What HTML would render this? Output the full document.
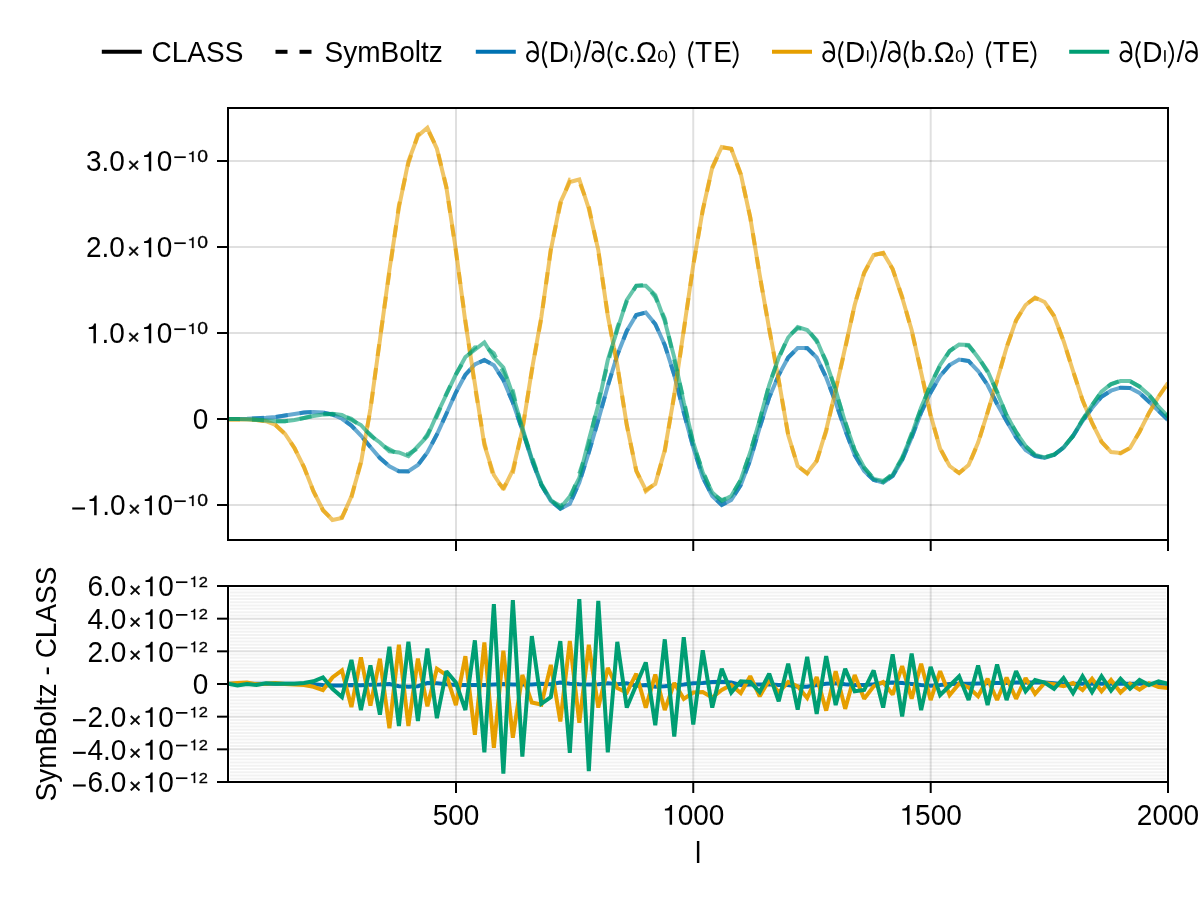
<!DOCTYPE html>
<html><head><meta charset="utf-8"><title>plot</title>
<style>html,body{margin:0;padding:0;background:#fff;overflow:hidden;}svg{display:block;will-change:transform;}text{font-family:"Liberation Sans",sans-serif;fill:#000;}</style></head><body>
<svg width="1200" height="900" viewBox="0 0 1200 900">
<rect x="0" y="0" width="1200" height="900" fill="#ffffff"/>
<g id="top">
<line x1="456.0" x2="456.0" y1="108.0" y2="540.0" stroke="#000" stroke-opacity="0.12" stroke-width="2"/>
<line x1="693.25" x2="693.25" y1="108.0" y2="540.0" stroke="#000" stroke-opacity="0.12" stroke-width="2"/>
<line x1="930.7" x2="930.7" y1="108.0" y2="540.0" stroke="#000" stroke-opacity="0.12" stroke-width="2"/>
<line x1="228.0" x2="1168.0" y1="161.0" y2="161.0" stroke="#000" stroke-opacity="0.12" stroke-width="2"/>
<line x1="228.0" x2="1168.0" y1="247.0" y2="247.0" stroke="#000" stroke-opacity="0.12" stroke-width="2"/>
<line x1="228.0" x2="1168.0" y1="333.0" y2="333.0" stroke="#000" stroke-opacity="0.12" stroke-width="2"/>
<line x1="228.0" x2="1168.0" y1="419.0" y2="419.0" stroke="#000" stroke-opacity="0.12" stroke-width="2"/>
<line x1="228.0" x2="1168.0" y1="505.0" y2="505.0" stroke="#000" stroke-opacity="0.12" stroke-width="2"/>
<clipPath id="ctop"><rect x="228" y="108" width="940" height="432"/></clipPath>
<g clip-path="url(#ctop)" fill="none" stroke-width="4" stroke-linejoin="miter" stroke-miterlimit="2" stroke-opacity="0.6">
<polyline points="228.00,419.00 237.49,419.00 246.99,418.75 256.48,418.25 265.98,417.75 275.47,417.00 284.97,415.50 294.46,414.00 303.96,412.50 313.45,412.00 322.95,412.50 332.44,414.50 341.94,418.75 351.43,425.50 360.93,435.50 370.42,447.00 379.92,458.00 389.41,466.25 398.91,471.25 408.40,471.25 417.90,465.00 427.39,452.50 436.89,434.50 446.38,413.75 455.88,392.50 465.37,374.75 474.87,364.50 484.36,360.00 493.86,365.25 503.35,380.00 512.85,402.50 522.34,430.00 531.84,460.00 541.33,485.00 550.83,501.00 560.32,508.75 569.82,503.75 579.31,482.50 588.81,452.50 598.30,420.00 607.80,386.00 617.29,355.00 626.79,331.00 636.28,315.00 645.78,312.50 655.27,324.00 664.77,345.00 674.26,375.00 683.76,412.50 693.25,447.50 702.75,477.50 712.24,496.00 721.74,505.00 731.23,500.00 740.73,485.00 750.22,460.00 759.72,427.50 769.21,397.50 778.71,375.00 788.20,357.50 797.70,348.00 807.19,348.00 816.69,357.50 826.18,377.50 835.68,402.50 845.17,430.00 854.67,455.00 864.16,471.00 873.66,480.00 883.15,482.50 892.65,476.00 902.14,460.00 911.64,437.50 921.13,412.50 930.63,392.50 940.12,376.00 949.62,365.00 959.11,359.50 968.61,361.00 978.10,371.00 987.60,385.00 997.09,404.00 1006.59,421.00 1016.08,437.50 1025.58,450.00 1035.07,456.00 1044.57,458.00 1054.06,455.00 1063.56,447.50 1073.05,436.00 1082.55,421.00 1092.04,408.00 1101.54,396.70 1111.03,390.70 1120.53,387.70 1130.02,388.00 1139.52,393.00 1149.01,401.70 1158.51,410.70 1168.00,420.00" stroke="#0072B2"/>
<polyline points="228.00,418.99 237.49,418.99 246.99,418.74 256.48,418.24 265.98,417.74 275.47,416.99 284.97,415.49 294.46,413.99 303.96,412.49 313.45,412.01 322.95,412.55 332.44,414.58 341.94,418.83 351.43,425.55 360.93,435.57 370.42,447.04 379.92,458.03 389.41,466.25 398.91,471.37 408.40,471.40 417.90,465.12 427.39,452.45 436.89,434.46 446.38,413.76 455.88,392.55 465.37,374.80 474.87,364.55 484.36,360.05 493.86,365.28 503.35,380.00 512.85,402.53 522.34,430.03 531.84,460.03 541.33,484.99 550.83,501.01 560.32,508.67 569.82,503.74 579.31,482.51 588.81,452.53 598.30,420.01 607.80,385.96 617.29,355.01 626.79,330.96 636.28,315.09 645.78,312.55 655.27,324.15 664.77,345.12 674.26,375.08 683.76,412.53 693.25,447.46 702.75,477.45 712.24,495.89 721.74,504.88 731.23,499.92 740.73,485.05 750.22,460.03 759.72,427.53 769.21,397.51 778.71,375.05 788.20,357.55 797.70,348.15 807.19,348.15 816.69,357.55 826.18,377.49 835.68,402.46 845.17,430.01 854.67,455.05 864.16,471.05 873.66,480.01 883.15,482.45 892.65,475.92 902.14,459.95 911.64,437.50 921.13,412.55 930.63,392.59 940.12,376.05 949.62,365.00 959.11,359.49 968.61,360.99 978.10,370.97 987.60,384.96 997.09,403.95 1006.59,420.95 1016.08,437.42 1025.58,449.92 1035.07,455.92 1044.57,457.92 1054.06,454.96 1063.56,447.51 1073.05,435.99 1082.55,420.99 1092.04,407.99 1101.54,396.69 1111.03,390.69 1120.53,387.69 1130.02,387.99 1139.52,392.99 1149.01,401.69 1158.51,410.69 1168.00,419.99" stroke="#0072B2" stroke-dasharray="12 12"/>
<polyline points="228.00,419.50 237.49,419.50 246.99,419.50 256.48,420.00 265.98,421.25 275.47,425.00 284.97,433.75 294.46,448.00 303.96,467.00 313.45,491.25 322.95,510.00 332.44,520.00 341.94,518.00 351.43,496.25 360.93,463.00 370.42,408.75 379.92,340.00 389.41,270.00 398.91,207.50 408.40,161.25 417.90,136.00 427.39,127.80 436.89,148.75 446.38,187.50 455.88,250.00 465.37,322.00 474.87,383.75 484.36,445.00 493.86,475.00 503.35,489.50 512.85,470.00 522.34,430.00 531.84,370.00 541.33,317.00 550.83,250.00 560.32,202.50 569.82,182.00 579.31,179.50 588.81,208.75 598.30,250.00 607.80,316.00 617.29,365.00 626.79,425.00 636.28,471.00 645.78,490.00 655.27,484.00 664.77,450.00 674.26,395.00 683.76,330.00 693.25,265.00 702.75,210.00 712.24,167.50 721.74,147.00 731.23,148.75 740.73,173.75 750.22,217.50 759.72,275.00 769.21,329.00 778.71,380.00 788.20,435.00 797.70,466.00 807.19,473.00 816.69,461.00 826.18,430.00 835.68,390.00 845.17,347.50 854.67,305.00 864.16,272.50 873.66,255.00 883.15,253.00 892.65,268.75 902.14,297.50 911.64,330.00 921.13,372.50 930.63,415.00 940.12,448.75 949.62,466.00 959.11,473.00 968.61,465.00 978.10,442.50 987.60,412.50 997.09,380.00 1006.59,347.50 1016.08,320.00 1025.58,305.00 1035.07,297.50 1044.57,302.00 1054.06,316.00 1063.56,341.00 1073.05,371.00 1082.55,400.00 1092.04,423.00 1101.54,441.70 1111.03,452.00 1120.53,453.00 1130.02,448.00 1139.52,431.70 1149.01,413.00 1158.51,396.70 1168.00,383.00" stroke="#E69F00"/>
<polyline points="228.00,419.49 237.49,419.45 246.99,419.42 256.48,420.01 265.98,421.24 275.47,424.95 284.97,433.75 294.46,448.03 303.96,467.05 313.45,491.40 322.95,510.32 332.44,519.66 341.94,517.29 351.43,497.47 360.93,461.60 370.42,409.89 379.92,338.67 389.41,272.33 398.91,205.44 408.40,163.46 417.90,134.67 427.39,128.98 436.89,147.94 446.38,187.02 455.88,251.11 465.37,320.53 474.87,386.42 484.36,442.81 493.86,478.36 503.35,487.74 512.85,472.83 522.34,429.52 531.84,370.98 541.33,318.08 550.83,249.00 560.32,204.47 569.82,179.74 579.31,181.54 588.81,206.69 598.30,251.24 607.80,315.15 617.29,365.21 626.79,425.45 636.28,470.46 645.78,491.24 655.27,483.50 664.77,451.37 674.26,394.95 683.76,330.78 693.25,265.45 702.75,210.42 712.24,168.21 721.74,147.32 731.23,148.80 740.73,174.23 750.22,217.09 759.72,275.65 769.21,328.79 778.71,380.45 788.20,434.89 797.70,466.12 807.19,473.74 816.69,460.63 826.18,431.40 835.68,389.33 845.17,348.81 854.67,304.52 864.16,273.28 873.66,255.12 883.15,252.89 892.65,269.31 902.14,296.56 911.64,330.78 921.13,371.43 930.63,415.85 940.12,448.08 949.62,466.58 959.11,472.99 968.61,465.19 978.10,443.15 987.60,412.22 997.09,380.85 1006.59,347.16 1016.08,320.78 1025.58,304.68 1035.07,298.02 1044.57,301.95 1054.06,316.01 1063.56,341.12 1073.05,370.95 1082.55,400.32 1092.04,422.72 1101.54,442.08 1111.03,451.79 1120.53,453.45 1130.02,447.99 1139.52,431.99 1149.01,412.96 1158.51,396.86 1168.00,383.21" stroke="#E69F00" stroke-dasharray="12 12"/>
<polyline points="228.00,419.00 237.49,419.00 246.99,419.25 256.48,419.75 265.98,420.50 275.47,421.25 284.97,421.25 294.46,420.00 303.96,418.00 313.45,416.00 322.95,414.50 332.44,413.75 341.94,415.00 351.43,420.00 360.93,425.00 370.42,435.50 379.92,442.50 389.41,451.25 398.91,452.50 408.40,456.25 417.90,446.25 427.39,436.25 436.89,414.50 446.38,394.50 455.88,374.50 465.37,357.00 474.87,349.75 484.36,342.50 493.86,357.50 503.35,367.50 512.85,395.00 522.34,427.50 531.84,458.75 541.33,483.75 550.83,500.00 560.32,508.00 569.82,496.50 579.31,478.00 588.81,440.00 598.30,405.00 607.80,360.00 617.29,330.00 626.79,300.00 636.28,285.75 645.78,285.75 655.27,295.00 664.77,321.00 674.26,357.50 683.76,402.50 693.25,442.50 702.75,472.50 712.24,492.50 721.74,501.00 731.23,496.00 740.73,480.00 750.22,452.50 759.72,420.00 769.21,385.00 778.71,357.50 788.20,337.50 797.70,327.00 807.19,330.00 816.69,340.00 826.18,362.50 835.68,390.00 845.17,422.50 854.67,450.00 864.16,467.50 873.66,479.00 883.15,481.00 892.65,475.00 902.14,457.50 911.64,435.00 921.13,407.50 930.63,385.00 940.12,365.00 949.62,351.00 959.11,344.50 968.61,345.00 978.10,357.50 987.60,371.00 997.09,392.50 1006.59,415.00 1016.08,432.50 1025.58,446.00 1035.07,455.00 1044.57,457.50 1054.06,454.50 1063.56,447.50 1073.05,435.50 1082.55,420.00 1092.04,405.00 1101.54,391.70 1111.03,384.00 1120.53,381.00 1130.02,381.00 1139.52,386.70 1149.01,395.00 1158.51,406.70 1168.00,416.70" stroke="#009E73"/>
<polyline points="228.00,418.99 237.49,419.08 246.99,419.25 256.48,419.80 265.98,420.46 275.47,421.24 284.97,421.24 294.46,419.99 303.96,417.95 313.45,415.85 322.95,414.16 332.44,414.00 341.94,415.69 351.43,418.73 360.93,426.37 370.42,434.52 379.92,444.11 389.41,449.29 398.91,454.71 408.40,454.03 417.90,448.19 427.39,434.39 436.89,416.30 446.38,393.83 455.88,374.42 465.37,358.37 474.87,347.45 484.36,346.09 493.86,353.30 503.35,372.22 512.85,390.59 522.34,431.32 531.84,456.23 541.33,484.79 550.83,500.69 560.32,505.74 569.82,500.12 579.31,473.53 588.81,444.59 598.30,400.63 607.80,363.59 617.29,327.78 626.79,301.24 636.28,285.80 645.78,284.61 655.27,297.17 664.77,318.65 674.26,360.26 683.76,400.04 693.25,444.63 702.75,470.73 712.24,493.74 721.74,500.19 731.23,496.45 740.73,479.85 750.22,452.39 759.72,420.42 769.21,384.46 778.71,358.41 788.20,336.43 797.70,328.35 807.19,328.57 816.69,341.57 826.18,361.03 835.68,391.11 845.17,421.69 854.67,450.38 864.16,467.82 873.66,478.29 883.15,482.24 892.65,473.44 902.14,459.20 911.64,433.40 921.13,408.87 930.63,384.10 940.12,365.58 949.62,351.09 959.11,344.09 968.61,345.85 978.10,356.52 987.60,372.11 997.09,391.47 1006.59,415.85 1016.08,431.83 1025.58,446.38 1035.07,454.79 1044.57,457.42 1054.06,454.75 1063.56,447.18 1073.05,435.98 1082.55,419.59 1092.04,405.42 1101.54,391.29 1111.03,384.34 1120.53,380.72 1130.02,381.25 1139.52,386.49 1149.01,395.05 1158.51,406.55 1168.00,416.69" stroke="#009E73" stroke-dasharray="12 12"/>
</g>
<rect x="228.0" y="108.0" width="940.0" height="432.0" fill="none" stroke="#000" stroke-width="2"/>
<line x1="217" x2="227" y1="161.0" y2="161.0" stroke="#000" stroke-width="2"/>
<line x1="217" x2="227" y1="247.0" y2="247.0" stroke="#000" stroke-width="2"/>
<line x1="217" x2="227" y1="333.0" y2="333.0" stroke="#000" stroke-width="2"/>
<line x1="217" x2="227" y1="419.0" y2="419.0" stroke="#000" stroke-width="2"/>
<line x1="217" x2="227" y1="505.0" y2="505.0" stroke="#000" stroke-width="2"/>
<line x1="456.0" x2="456.0" y1="541" y2="551" stroke="#000" stroke-width="2"/>
<line x1="693.25" x2="693.25" y1="541" y2="551" stroke="#000" stroke-width="2"/>
<line x1="930.7" x2="930.7" y1="541" y2="551" stroke="#000" stroke-width="2"/>
<line x1="1168.0" x2="1168.0" y1="541" y2="551" stroke="#000" stroke-width="2"/>
<g transform="translate(85.98,171.30)"><text transform="scale(1.0,1.04)" x="0.00 15.57 23.35 70.85" font-size="28">3.00</text><text transform="translate(47.60,0.2) scale(1.0,1)" text-anchor="middle" font-size="21.00" stroke="#000" stroke-width="0.45">×</text><path transform="translate(55.28,0) scale(28.000,-28.000)" d="M0.100,0.507 L0.100,0.571 C0.189,0.571 0.271,0.607 0.293,0.707 L0.356,0.707 L0.356,0 L0.267,0 L0.267,0.507 Z"/></g><rect x="174.30" y="156.35" width="11.45" height="1.7"/><path transform="translate(187.34,161.90) scale(17.60,-15.1)" d="M0.100,0.507 L0.100,0.571 C0.189,0.571 0.271,0.607 0.293,0.707 L0.356,0.707 L0.356,0 L0.267,0 L0.267,0.507 Z" stroke="#000" stroke-width="0.015"/><text transform="translate(197.13,161.80) scale(1.29,1.06)" font-size="15" stroke="#000" stroke-width="0.3">0</text>
<g transform="translate(85.98,257.30)"><text transform="scale(1.0,1.04)" x="0.00 15.57 23.35 70.85" font-size="28">2.00</text><text transform="translate(47.60,0.2) scale(1.0,1)" text-anchor="middle" font-size="21.00" stroke="#000" stroke-width="0.45">×</text><path transform="translate(55.28,0) scale(28.000,-28.000)" d="M0.100,0.507 L0.100,0.571 C0.189,0.571 0.271,0.607 0.293,0.707 L0.356,0.707 L0.356,0 L0.267,0 L0.267,0.507 Z"/></g><rect x="174.30" y="242.35" width="11.45" height="1.7"/><path transform="translate(187.34,247.90) scale(17.60,-15.1)" d="M0.100,0.507 L0.100,0.571 C0.189,0.571 0.271,0.607 0.293,0.707 L0.356,0.707 L0.356,0 L0.267,0 L0.267,0.507 Z" stroke="#000" stroke-width="0.015"/><text transform="translate(197.13,247.80) scale(1.29,1.06)" font-size="15" stroke="#000" stroke-width="0.3">0</text>
<g transform="translate(85.98,343.30)"><text transform="scale(1.0,1.04)" x="15.57 23.35 70.85" font-size="28">.00</text><path transform="translate(0.00,0) scale(28.000,-28.000)" d="M0.100,0.507 L0.100,0.571 C0.189,0.571 0.271,0.607 0.293,0.707 L0.356,0.707 L0.356,0 L0.267,0 L0.267,0.507 Z"/><text transform="translate(47.60,0.2) scale(1.0,1)" text-anchor="middle" font-size="21.00" stroke="#000" stroke-width="0.45">×</text><path transform="translate(55.28,0) scale(28.000,-28.000)" d="M0.100,0.507 L0.100,0.571 C0.189,0.571 0.271,0.607 0.293,0.707 L0.356,0.707 L0.356,0 L0.267,0 L0.267,0.507 Z"/></g><rect x="174.30" y="328.35" width="11.45" height="1.7"/><path transform="translate(187.34,333.90) scale(17.60,-15.1)" d="M0.100,0.507 L0.100,0.571 C0.189,0.571 0.271,0.607 0.293,0.707 L0.356,0.707 L0.356,0 L0.267,0 L0.267,0.507 Z" stroke="#000" stroke-width="0.015"/><text transform="translate(197.13,333.80) scale(1.29,1.06)" font-size="15" stroke="#000" stroke-width="0.3">0</text>
<g transform="translate(192.73,429.30)"><text transform="scale(1.0,1.04)" x="0.00" font-size="28">0</text></g>
<g transform="translate(70.33,515.30)"><text transform="scale(1.0,1.04)" x="31.92 39.70 87.20" font-size="28">.00</text><rect x="1.90" y="-7.85" width="12.75" height="2.10"/><path transform="translate(16.35,0) scale(28.000,-28.000)" d="M0.100,0.507 L0.100,0.571 C0.189,0.571 0.271,0.607 0.293,0.707 L0.356,0.707 L0.356,0 L0.267,0 L0.267,0.507 Z"/><text transform="translate(63.95,0.2) scale(1.0,1)" text-anchor="middle" font-size="21.00" stroke="#000" stroke-width="0.45">×</text><path transform="translate(71.63,0) scale(28.000,-28.000)" d="M0.100,0.507 L0.100,0.571 C0.189,0.571 0.271,0.607 0.293,0.707 L0.356,0.707 L0.356,0 L0.267,0 L0.267,0.507 Z"/></g><rect x="174.30" y="500.35" width="11.45" height="1.7"/><path transform="translate(187.34,505.90) scale(17.60,-15.1)" d="M0.100,0.507 L0.100,0.571 C0.189,0.571 0.271,0.607 0.293,0.707 L0.356,0.707 L0.356,0 L0.267,0 L0.267,0.507 Z" stroke="#000" stroke-width="0.015"/><text transform="translate(197.13,505.80) scale(1.29,1.06)" font-size="15" stroke="#000" stroke-width="0.3">0</text>
</g>
<g id="bot">
<line x1="230.0" x2="1166.0" y1="589.267" y2="589.267" stroke="#000" stroke-opacity="0.05" stroke-width="2"/>
<line x1="230.0" x2="1166.0" y1="592.533" y2="592.533" stroke="#000" stroke-opacity="0.05" stroke-width="2"/>
<line x1="230.0" x2="1166.0" y1="595.800" y2="595.800" stroke="#000" stroke-opacity="0.05" stroke-width="2"/>
<line x1="230.0" x2="1166.0" y1="599.067" y2="599.067" stroke="#000" stroke-opacity="0.05" stroke-width="2"/>
<line x1="230.0" x2="1166.0" y1="602.333" y2="602.333" stroke="#000" stroke-opacity="0.05" stroke-width="2"/>
<line x1="230.0" x2="1166.0" y1="605.600" y2="605.600" stroke="#000" stroke-opacity="0.05" stroke-width="2"/>
<line x1="230.0" x2="1166.0" y1="608.867" y2="608.867" stroke="#000" stroke-opacity="0.05" stroke-width="2"/>
<line x1="230.0" x2="1166.0" y1="612.133" y2="612.133" stroke="#000" stroke-opacity="0.05" stroke-width="2"/>
<line x1="230.0" x2="1166.0" y1="615.400" y2="615.400" stroke="#000" stroke-opacity="0.05" stroke-width="2"/>
<line x1="230.0" x2="1166.0" y1="621.933" y2="621.933" stroke="#000" stroke-opacity="0.05" stroke-width="2"/>
<line x1="230.0" x2="1166.0" y1="625.200" y2="625.200" stroke="#000" stroke-opacity="0.05" stroke-width="2"/>
<line x1="230.0" x2="1166.0" y1="628.467" y2="628.467" stroke="#000" stroke-opacity="0.05" stroke-width="2"/>
<line x1="230.0" x2="1166.0" y1="631.733" y2="631.733" stroke="#000" stroke-opacity="0.05" stroke-width="2"/>
<line x1="230.0" x2="1166.0" y1="635.000" y2="635.000" stroke="#000" stroke-opacity="0.05" stroke-width="2"/>
<line x1="230.0" x2="1166.0" y1="638.267" y2="638.267" stroke="#000" stroke-opacity="0.05" stroke-width="2"/>
<line x1="230.0" x2="1166.0" y1="641.533" y2="641.533" stroke="#000" stroke-opacity="0.05" stroke-width="2"/>
<line x1="230.0" x2="1166.0" y1="644.800" y2="644.800" stroke="#000" stroke-opacity="0.05" stroke-width="2"/>
<line x1="230.0" x2="1166.0" y1="648.067" y2="648.067" stroke="#000" stroke-opacity="0.05" stroke-width="2"/>
<line x1="230.0" x2="1166.0" y1="654.600" y2="654.600" stroke="#000" stroke-opacity="0.05" stroke-width="2"/>
<line x1="230.0" x2="1166.0" y1="657.867" y2="657.867" stroke="#000" stroke-opacity="0.05" stroke-width="2"/>
<line x1="230.0" x2="1166.0" y1="661.133" y2="661.133" stroke="#000" stroke-opacity="0.05" stroke-width="2"/>
<line x1="230.0" x2="1166.0" y1="664.400" y2="664.400" stroke="#000" stroke-opacity="0.05" stroke-width="2"/>
<line x1="230.0" x2="1166.0" y1="667.667" y2="667.667" stroke="#000" stroke-opacity="0.05" stroke-width="2"/>
<line x1="230.0" x2="1166.0" y1="670.933" y2="670.933" stroke="#000" stroke-opacity="0.05" stroke-width="2"/>
<line x1="230.0" x2="1166.0" y1="674.200" y2="674.200" stroke="#000" stroke-opacity="0.05" stroke-width="2"/>
<line x1="230.0" x2="1166.0" y1="677.467" y2="677.467" stroke="#000" stroke-opacity="0.05" stroke-width="2"/>
<line x1="230.0" x2="1166.0" y1="680.733" y2="680.733" stroke="#000" stroke-opacity="0.05" stroke-width="2"/>
<line x1="230.0" x2="1166.0" y1="687.267" y2="687.267" stroke="#000" stroke-opacity="0.05" stroke-width="2"/>
<line x1="230.0" x2="1166.0" y1="690.533" y2="690.533" stroke="#000" stroke-opacity="0.05" stroke-width="2"/>
<line x1="230.0" x2="1166.0" y1="693.800" y2="693.800" stroke="#000" stroke-opacity="0.05" stroke-width="2"/>
<line x1="230.0" x2="1166.0" y1="697.067" y2="697.067" stroke="#000" stroke-opacity="0.05" stroke-width="2"/>
<line x1="230.0" x2="1166.0" y1="700.333" y2="700.333" stroke="#000" stroke-opacity="0.05" stroke-width="2"/>
<line x1="230.0" x2="1166.0" y1="703.600" y2="703.600" stroke="#000" stroke-opacity="0.05" stroke-width="2"/>
<line x1="230.0" x2="1166.0" y1="706.867" y2="706.867" stroke="#000" stroke-opacity="0.05" stroke-width="2"/>
<line x1="230.0" x2="1166.0" y1="710.133" y2="710.133" stroke="#000" stroke-opacity="0.05" stroke-width="2"/>
<line x1="230.0" x2="1166.0" y1="713.400" y2="713.400" stroke="#000" stroke-opacity="0.05" stroke-width="2"/>
<line x1="230.0" x2="1166.0" y1="719.933" y2="719.933" stroke="#000" stroke-opacity="0.05" stroke-width="2"/>
<line x1="230.0" x2="1166.0" y1="723.200" y2="723.200" stroke="#000" stroke-opacity="0.05" stroke-width="2"/>
<line x1="230.0" x2="1166.0" y1="726.467" y2="726.467" stroke="#000" stroke-opacity="0.05" stroke-width="2"/>
<line x1="230.0" x2="1166.0" y1="729.733" y2="729.733" stroke="#000" stroke-opacity="0.05" stroke-width="2"/>
<line x1="230.0" x2="1166.0" y1="733.000" y2="733.000" stroke="#000" stroke-opacity="0.05" stroke-width="2"/>
<line x1="230.0" x2="1166.0" y1="736.267" y2="736.267" stroke="#000" stroke-opacity="0.05" stroke-width="2"/>
<line x1="230.0" x2="1166.0" y1="739.533" y2="739.533" stroke="#000" stroke-opacity="0.05" stroke-width="2"/>
<line x1="230.0" x2="1166.0" y1="742.800" y2="742.800" stroke="#000" stroke-opacity="0.05" stroke-width="2"/>
<line x1="230.0" x2="1166.0" y1="746.067" y2="746.067" stroke="#000" stroke-opacity="0.05" stroke-width="2"/>
<line x1="230.0" x2="1166.0" y1="752.600" y2="752.600" stroke="#000" stroke-opacity="0.05" stroke-width="2"/>
<line x1="230.0" x2="1166.0" y1="755.867" y2="755.867" stroke="#000" stroke-opacity="0.05" stroke-width="2"/>
<line x1="230.0" x2="1166.0" y1="759.133" y2="759.133" stroke="#000" stroke-opacity="0.05" stroke-width="2"/>
<line x1="230.0" x2="1166.0" y1="762.400" y2="762.400" stroke="#000" stroke-opacity="0.05" stroke-width="2"/>
<line x1="230.0" x2="1166.0" y1="765.667" y2="765.667" stroke="#000" stroke-opacity="0.05" stroke-width="2"/>
<line x1="230.0" x2="1166.0" y1="768.933" y2="768.933" stroke="#000" stroke-opacity="0.05" stroke-width="2"/>
<line x1="230.0" x2="1166.0" y1="772.200" y2="772.200" stroke="#000" stroke-opacity="0.05" stroke-width="2"/>
<line x1="230.0" x2="1166.0" y1="775.467" y2="775.467" stroke="#000" stroke-opacity="0.05" stroke-width="2"/>
<line x1="230.0" x2="1166.0" y1="778.733" y2="778.733" stroke="#000" stroke-opacity="0.05" stroke-width="2"/>
<line x1="456.0" x2="456.0" y1="586.0" y2="782.0" stroke="#000" stroke-opacity="0.12" stroke-width="2"/>
<line x1="693.25" x2="693.25" y1="586.0" y2="782.0" stroke="#000" stroke-opacity="0.12" stroke-width="2"/>
<line x1="930.7" x2="930.7" y1="586.0" y2="782.0" stroke="#000" stroke-opacity="0.12" stroke-width="2"/>
<line x1="228.0" x2="1168.0" y1="586.000" y2="586.000" stroke="#000" stroke-opacity="0.12" stroke-width="2"/>
<line x1="228.0" x2="1168.0" y1="618.667" y2="618.667" stroke="#000" stroke-opacity="0.12" stroke-width="2"/>
<line x1="228.0" x2="1168.0" y1="651.333" y2="651.333" stroke="#000" stroke-opacity="0.12" stroke-width="2"/>
<line x1="228.0" x2="1168.0" y1="684.000" y2="684.000" stroke="#000" stroke-opacity="0.12" stroke-width="2"/>
<line x1="228.0" x2="1168.0" y1="716.667" y2="716.667" stroke="#000" stroke-opacity="0.12" stroke-width="2"/>
<line x1="228.0" x2="1168.0" y1="749.333" y2="749.333" stroke="#000" stroke-opacity="0.12" stroke-width="2"/>
<line x1="228.0" x2="1168.0" y1="782.000" y2="782.000" stroke="#000" stroke-opacity="0.12" stroke-width="2"/>
<clipPath id="cbot"><rect x="228" y="586" width="940" height="196"/></clipPath>
<g clip-path="url(#cbot)" fill="none" stroke-width="4" stroke-linejoin="miter" stroke-miterlimit="2">
<polyline points="228.00,683.75 237.49,683.75 246.99,683.75 256.48,683.75 265.98,683.75 275.47,683.75 284.97,683.75 294.46,683.75 303.96,683.75 313.45,684.25 322.95,685.00 332.44,685.51 341.94,685.51 351.43,685.00 360.93,685.25 370.42,684.75 379.92,684.50 389.41,684.00 398.91,686.26 408.40,686.76 417.90,686.26 427.39,683.00 436.89,683.25 446.38,684.25 455.88,685.00 465.37,685.00 474.87,685.00 484.36,685.00 493.86,684.50 503.35,684.00 512.85,684.50 522.34,684.50 531.84,684.50 541.33,683.75 550.83,684.25 560.32,682.49 569.82,683.75 579.31,684.25 588.81,684.50 598.30,684.25 607.80,683.25 617.29,684.25 626.79,683.25 636.28,685.76 645.78,685.00 655.27,686.76 664.77,686.26 674.26,685.51 683.76,684.50 693.25,683.25 702.75,683.00 712.24,681.99 721.74,681.74 731.23,682.49 740.73,685.00 750.22,684.50 759.72,684.50 769.21,684.25 778.71,685.00 788.20,685.00 797.70,686.76 807.19,686.76 816.69,685.00 826.18,683.75 835.68,683.25 845.17,684.25 854.67,685.00 864.16,685.00 873.66,684.25 883.15,683.00 892.65,682.49 902.14,683.00 911.64,684.00 921.13,685.00 930.63,685.76 940.12,685.00 949.62,684.00 959.11,683.75 968.61,683.75 978.10,683.50 987.60,683.25 997.09,683.00 1006.59,683.00 1016.08,682.49 1025.58,682.49 1035.07,682.49 1044.57,682.49 1054.06,683.25 1063.56,684.25 1073.05,683.75 1082.55,683.75 1092.04,683.75 1101.54,683.75 1111.03,683.75 1120.53,683.75 1130.02,683.75 1139.52,683.75 1149.01,683.75 1158.51,683.75 1168.00,683.75" stroke="#0072B2"/>
<polyline points="228.00,683.75 237.49,683.00 246.99,682.49 256.48,684.25 265.98,683.75 275.47,683.00 284.97,684.00 294.46,684.50 303.96,685.00 313.45,686.76 322.95,690.02 332.44,677.47 341.94,670.45 351.43,707.09 360.93,657.39 370.42,705.59 379.92,658.65 389.41,728.18 398.91,644.84 408.40,725.92 417.90,658.65 427.39,706.34 436.89,668.69 446.38,674.96 455.88,705.08 465.37,656.14 474.87,734.70 484.36,642.33 493.86,747.75 503.35,650.62 512.85,737.71 522.34,674.96 531.84,702.57 541.33,704.58 550.83,664.92 560.32,721.40 569.82,641.08 579.31,722.65 588.81,644.84 598.30,707.59 607.80,667.94 617.29,688.02 626.79,692.53 636.28,673.71 645.78,707.59 655.27,674.46 664.77,710.10 674.26,683.00 683.76,698.81 693.25,692.53 702.75,692.03 712.24,697.55 721.74,690.02 731.23,685.00 740.73,693.04 750.22,676.22 759.72,696.30 769.21,679.98 778.71,692.53 788.20,681.99 797.70,686.26 807.19,698.06 816.69,676.97 826.18,710.61 835.68,671.20 845.17,708.85 854.67,674.96 864.16,698.81 873.66,686.26 883.15,681.99 892.65,694.54 902.14,666.18 911.64,698.81 921.13,663.67 930.63,700.06 940.12,671.20 949.62,695.04 959.11,683.75 968.61,687.51 978.10,696.30 987.60,678.73 997.09,700.06 1006.59,677.47 1016.08,698.81 1025.58,677.98 1035.07,693.79 1044.57,683.00 1054.06,684.25 1063.56,686.26 1073.05,683.00 1082.55,690.02 1092.04,678.73 1101.54,691.28 1111.03,679.98 1120.53,692.53 1130.02,683.75 1139.52,689.52 1149.01,683.25 1158.51,687.01 1168.00,688.02" stroke="#E69F00"/>
<polyline points="228.00,683.75 237.49,685.51 246.99,684.00 256.48,685.00 265.98,683.25 275.47,683.75 284.97,683.75 294.46,683.75 303.96,683.00 313.45,681.24 322.95,677.47 332.44,688.77 341.94,697.05 351.43,659.90 360.93,710.10 370.42,665.43 379.92,714.62 389.41,646.85 398.91,725.92 408.40,641.83 417.90,720.90 427.39,648.61 436.89,718.14 446.38,671.20 455.88,682.49 465.37,710.10 474.87,640.33 484.36,752.27 493.86,604.18 503.35,773.61 512.85,600.17 522.34,756.54 531.84,636.06 541.33,703.83 550.83,697.05 560.32,641.08 569.82,752.77 579.31,599.16 588.81,771.10 598.30,600.92 607.80,752.27 617.29,641.83 626.79,707.59 636.28,685.00 645.78,662.41 655.27,725.16 664.77,639.32 674.26,736.46 683.76,637.31 693.25,724.41 702.75,650.37 712.24,707.59 721.74,668.69 731.23,692.53 740.73,681.24 750.22,681.99 759.72,692.03 769.21,673.71 778.71,701.32 788.20,663.67 797.70,709.60 807.19,656.89 816.69,713.87 826.18,656.14 835.68,705.08 845.17,668.69 854.67,691.28 864.16,690.02 873.66,670.45 883.15,707.59 892.65,654.38 902.14,716.38 911.64,653.63 921.13,710.10 930.63,666.93 940.12,695.04 949.62,685.76 959.11,676.22 968.61,700.06 978.10,665.43 987.60,705.08 997.09,664.42 1006.59,700.06 1016.08,671.20 1025.58,691.28 1035.07,679.98 1044.57,682.49 1054.06,688.77 1063.56,677.98 1073.05,693.04 1082.55,676.22 1092.04,692.03 1101.54,676.22 1111.03,690.53 1120.53,678.73 1130.02,688.77 1139.52,679.98 1149.01,685.00 1158.51,681.24 1168.00,683.75" stroke="#009E73"/>
</g>
<rect x="228.0" y="586.0" width="940.0" height="196.0" fill="none" stroke="#000" stroke-width="2"/>
<line x1="217" x2="227" y1="586.000" y2="586.000" stroke="#000" stroke-width="2"/>
<g transform="translate(87.43,596.30)"><text transform="scale(1.0,1.04)" x="0.00 15.57 23.35 70.85" font-size="28">6.00</text><text transform="translate(47.60,0.2) scale(1.0,1)" text-anchor="middle" font-size="21.00" stroke="#000" stroke-width="0.45">×</text><path transform="translate(55.28,0) scale(28.000,-28.000)" d="M0.100,0.507 L0.100,0.571 C0.189,0.571 0.271,0.607 0.293,0.707 L0.356,0.707 L0.356,0 L0.267,0 L0.267,0.507 Z"/></g><rect x="176.00" y="581.35" width="11.40" height="1.7"/><path transform="translate(189.36,586.90) scale(16.40,-15.1)" d="M0.100,0.507 L0.100,0.571 C0.189,0.571 0.271,0.607 0.293,0.707 L0.356,0.707 L0.356,0 L0.267,0 L0.267,0.507 Z" stroke="#000" stroke-width="0.015"/><text transform="translate(198.77,586.80) scale(1.097,1.03)" font-size="15" stroke="#000" stroke-width="0.3">2</text>
<line x1="217" x2="227" y1="618.667" y2="618.667" stroke="#000" stroke-width="2"/>
<g transform="translate(87.43,628.97)"><text transform="scale(1.0,1.04)" x="0.00 15.57 23.35 70.85" font-size="28">4.00</text><text transform="translate(47.60,0.2) scale(1.0,1)" text-anchor="middle" font-size="21.00" stroke="#000" stroke-width="0.45">×</text><path transform="translate(55.28,0) scale(28.000,-28.000)" d="M0.100,0.507 L0.100,0.571 C0.189,0.571 0.271,0.607 0.293,0.707 L0.356,0.707 L0.356,0 L0.267,0 L0.267,0.507 Z"/></g><rect x="176.00" y="614.02" width="11.40" height="1.7"/><path transform="translate(189.36,619.57) scale(16.40,-15.1)" d="M0.100,0.507 L0.100,0.571 C0.189,0.571 0.271,0.607 0.293,0.707 L0.356,0.707 L0.356,0 L0.267,0 L0.267,0.507 Z" stroke="#000" stroke-width="0.015"/><text transform="translate(198.77,619.47) scale(1.097,1.03)" font-size="15" stroke="#000" stroke-width="0.3">2</text>
<line x1="217" x2="227" y1="651.333" y2="651.333" stroke="#000" stroke-width="2"/>
<g transform="translate(87.43,661.63)"><text transform="scale(1.0,1.04)" x="0.00 15.57 23.35 70.85" font-size="28">2.00</text><text transform="translate(47.60,0.2) scale(1.0,1)" text-anchor="middle" font-size="21.00" stroke="#000" stroke-width="0.45">×</text><path transform="translate(55.28,0) scale(28.000,-28.000)" d="M0.100,0.507 L0.100,0.571 C0.189,0.571 0.271,0.607 0.293,0.707 L0.356,0.707 L0.356,0 L0.267,0 L0.267,0.507 Z"/></g><rect x="176.00" y="646.68" width="11.40" height="1.7"/><path transform="translate(189.36,652.23) scale(16.40,-15.1)" d="M0.100,0.507 L0.100,0.571 C0.189,0.571 0.271,0.607 0.293,0.707 L0.356,0.707 L0.356,0 L0.267,0 L0.267,0.507 Z" stroke="#000" stroke-width="0.015"/><text transform="translate(198.77,652.13) scale(1.097,1.03)" font-size="15" stroke="#000" stroke-width="0.3">2</text>
<line x1="217" x2="227" y1="684.000" y2="684.000" stroke="#000" stroke-width="2"/>
<g transform="translate(192.73,694.30)"><text transform="scale(1.0,1.04)" x="0.00" font-size="28">0</text></g>
<line x1="217" x2="227" y1="716.667" y2="716.667" stroke="#000" stroke-width="2"/>
<g transform="translate(71.08,726.97)"><text transform="scale(1.0,1.04)" x="16.35 31.92 39.70 87.20" font-size="28">2.00</text><rect x="1.90" y="-7.85" width="12.75" height="2.10"/><text transform="translate(63.95,0.2) scale(1.0,1)" text-anchor="middle" font-size="21.00" stroke="#000" stroke-width="0.45">×</text><path transform="translate(71.63,0) scale(28.000,-28.000)" d="M0.100,0.507 L0.100,0.571 C0.189,0.571 0.271,0.607 0.293,0.707 L0.356,0.707 L0.356,0 L0.267,0 L0.267,0.507 Z"/></g><rect x="176.00" y="712.02" width="11.40" height="1.7"/><path transform="translate(189.36,717.57) scale(16.40,-15.1)" d="M0.100,0.507 L0.100,0.571 C0.189,0.571 0.271,0.607 0.293,0.707 L0.356,0.707 L0.356,0 L0.267,0 L0.267,0.507 Z" stroke="#000" stroke-width="0.015"/><text transform="translate(198.77,717.47) scale(1.097,1.03)" font-size="15" stroke="#000" stroke-width="0.3">2</text>
<line x1="217" x2="227" y1="749.333" y2="749.333" stroke="#000" stroke-width="2"/>
<g transform="translate(71.08,759.63)"><text transform="scale(1.0,1.04)" x="16.35 31.92 39.70 87.20" font-size="28">4.00</text><rect x="1.90" y="-7.85" width="12.75" height="2.10"/><text transform="translate(63.95,0.2) scale(1.0,1)" text-anchor="middle" font-size="21.00" stroke="#000" stroke-width="0.45">×</text><path transform="translate(71.63,0) scale(28.000,-28.000)" d="M0.100,0.507 L0.100,0.571 C0.189,0.571 0.271,0.607 0.293,0.707 L0.356,0.707 L0.356,0 L0.267,0 L0.267,0.507 Z"/></g><rect x="176.00" y="744.68" width="11.40" height="1.7"/><path transform="translate(189.36,750.23) scale(16.40,-15.1)" d="M0.100,0.507 L0.100,0.571 C0.189,0.571 0.271,0.607 0.293,0.707 L0.356,0.707 L0.356,0 L0.267,0 L0.267,0.507 Z" stroke="#000" stroke-width="0.015"/><text transform="translate(198.77,750.13) scale(1.097,1.03)" font-size="15" stroke="#000" stroke-width="0.3">2</text>
<line x1="217" x2="227" y1="782.000" y2="782.000" stroke="#000" stroke-width="2"/>
<g transform="translate(71.08,792.30)"><text transform="scale(1.0,1.04)" x="16.35 31.92 39.70 87.20" font-size="28">6.00</text><rect x="1.90" y="-7.85" width="12.75" height="2.10"/><text transform="translate(63.95,0.2) scale(1.0,1)" text-anchor="middle" font-size="21.00" stroke="#000" stroke-width="0.45">×</text><path transform="translate(71.63,0) scale(28.000,-28.000)" d="M0.100,0.507 L0.100,0.571 C0.189,0.571 0.271,0.607 0.293,0.707 L0.356,0.707 L0.356,0 L0.267,0 L0.267,0.507 Z"/></g><rect x="176.00" y="777.35" width="11.40" height="1.7"/><path transform="translate(189.36,782.90) scale(16.40,-15.1)" d="M0.100,0.507 L0.100,0.571 C0.189,0.571 0.271,0.607 0.293,0.707 L0.356,0.707 L0.356,0 L0.267,0 L0.267,0.507 Z" stroke="#000" stroke-width="0.015"/><text transform="translate(198.77,782.80) scale(1.097,1.03)" font-size="15" stroke="#000" stroke-width="0.3">2</text>
<line x1="456.0" x2="456.0" y1="783" y2="793" stroke="#000" stroke-width="2"/>
<g transform="translate(432.64,824.80)"><text transform="scale(1.0,1.04)" x="0.00 15.57 31.14" font-size="28">500</text></g>
<line x1="693.25" x2="693.25" y1="783" y2="793" stroke="#000" stroke-width="2"/>
<g transform="translate(662.11,824.80)"><text transform="scale(1.0,1.04)" x="15.57 31.14 46.72" font-size="28">000</text><path transform="translate(0.00,0) scale(28.000,-28.000)" d="M0.100,0.507 L0.100,0.571 C0.189,0.571 0.271,0.607 0.293,0.707 L0.356,0.707 L0.356,0 L0.267,0 L0.267,0.507 Z"/></g>
<line x1="930.7" x2="930.7" y1="783" y2="793" stroke="#000" stroke-width="2"/>
<g transform="translate(899.56,824.80)"><text transform="scale(1.0,1.04)" x="15.57 31.14 46.72" font-size="28">500</text><path transform="translate(0.00,0) scale(28.000,-28.000)" d="M0.100,0.507 L0.100,0.571 C0.189,0.571 0.271,0.607 0.293,0.707 L0.356,0.707 L0.356,0 L0.267,0 L0.267,0.507 Z"/></g>
<line x1="1168.0" x2="1168.0" y1="783" y2="793" stroke="#000" stroke-width="2"/>
<g transform="translate(1136.86,824.80)"><text transform="scale(1.0,1.04)" x="0.00 15.57 31.14 46.72" font-size="28">2000</text></g>
<g transform="translate(694.99,863.20)"><text transform="scale(1.0,1.04)" x="0.00" font-size="28">l</text></g>
<g transform="translate(55.70,684.00) rotate(-90) translate(-117.48,0)"><text transform="scale(1.0,1.04)" x="0.00 18.68 32.68 56.00 74.68 90.25 96.47 104.25 126.03 143.13 163.35 178.92 197.60 216.28" font-size="28">SymBoltz-CLASS</text></g>
</g>
<g id="legend">
<line x1="101.8" x2="141.8" y1="51.8" y2="51.8" stroke="#000" stroke-width="4"/>
<g transform="translate(151.50,62.00)"><text transform="scale(1.0,1.04)" x="0.00 20.22 35.79 54.47 73.14" font-size="28">CLASS</text></g>
<line x1="275.5" x2="287.5" y1="51.8" y2="51.8" stroke="#000" stroke-width="4"/>
<line x1="299.5" x2="311.5" y1="51.8" y2="51.8" stroke="#000" stroke-width="4"/>
<g transform="translate(324.50,62.00)"><text transform="scale(1.0,1.04)" x="0.00 18.68 32.68 56.00 74.68 90.25 96.47 104.25" font-size="28">SymBoltz</text></g>
<line x1="475.80" x2="515.80" y1="51.8" y2="51.8" stroke="#0072B2" stroke-width="4"/>
<g transform="translate(525.60,62.00)"><text transform="scale(1.0,1.04)" x="23.16" font-size="28">D</text><path transform="translate(0.40,0) scale(1.000,1.000)" d="M1.50,-19.40 C2.21,-19.50 4.50,-20.15 5.75,-20.00 C7.00,-19.85 8.08,-19.50 9.00,-18.50 C9.92,-17.50 10.78,-15.75 11.25,-14.00 C11.72,-12.25 11.81,-9.58 11.85,-8.00 C11.89,-6.42 11.97,-5.58 11.50,-4.50 C11.03,-3.42 9.96,-2.12 9.00,-1.50 C8.04,-0.88 6.79,-0.67 5.75,-0.75 C4.71,-0.83 3.52,-1.21 2.75,-2.00 C1.98,-2.79 1.27,-4.42 1.15,-5.50 C1.02,-6.58 1.44,-7.67 2.00,-8.50 C2.56,-9.33 3.67,-10.14 4.50,-10.50 C5.33,-10.86 6.08,-10.82 7.00,-10.65 C7.92,-10.48 9.23,-9.94 10.00,-9.50 C10.77,-9.06 11.33,-8.25 11.60,-8.00" fill="none" stroke="#000" stroke-width="2.1" stroke-linejoin="round"/><path transform="translate(13.84,0) scale(1.000,1.000)" d="M7.3,-20.6 Q-0.3,-7.4 7.3,5.9" fill="none" stroke="#000" stroke-width="1.9"/></g><rect x="570.75" y="50.1" width="1.55" height="11.7" fill="#000"/><g transform="translate(574.00,62.00)"><text transform="scale(1.0,1.04)" x="9.32 40.26 54.26 62.04" font-size="28">/c.Ω</text><path transform="translate(0.00,0) scale(1.000,1.000)" d="M0.9,-20.6 Q10.4,-7.4 0.9,5.9" fill="none" stroke="#000" stroke-width="1.9"/><path transform="translate(17.50,0) scale(1.000,1.000)" d="M1.50,-19.40 C2.21,-19.50 4.50,-20.15 5.75,-20.00 C7.00,-19.85 8.08,-19.50 9.00,-18.50 C9.92,-17.50 10.78,-15.75 11.25,-14.00 C11.72,-12.25 11.81,-9.58 11.85,-8.00 C11.89,-6.42 11.97,-5.58 11.50,-4.50 C11.03,-3.42 9.96,-2.12 9.00,-1.50 C8.04,-0.88 6.79,-0.67 5.75,-0.75 C4.71,-0.83 3.52,-1.21 2.75,-2.00 C1.98,-2.79 1.27,-4.42 1.15,-5.50 C1.02,-6.58 1.44,-7.67 2.00,-8.50 C2.56,-9.33 3.67,-10.14 4.50,-10.50 C5.33,-10.86 6.08,-10.82 7.00,-10.65 C7.92,-10.48 9.23,-9.94 10.00,-9.50 C10.77,-9.06 11.33,-8.25 11.60,-8.00" fill="none" stroke="#000" stroke-width="2.1" stroke-linejoin="round"/><path transform="translate(30.94,0) scale(1.000,1.000)" d="M7.3,-20.6 Q-0.3,-7.4 7.3,5.9" fill="none" stroke="#000" stroke-width="1.9"/></g><g transform="translate(657.27,61.85)"><text transform="scale(1.173,1.027)" x="0.00" font-size="16.5">0</text></g><g transform="translate(668.57,62.00)"><text transform="scale(1.0,1.04)" x="26.43 44.73" font-size="28">TE</text><path transform="translate(0.00,0) scale(1.000,1.000)" d="M0.9,-20.6 Q10.4,-7.4 0.9,5.9" fill="none" stroke="#000" stroke-width="1.9"/><path transform="translate(17.10,0) scale(1.000,1.000)" d="M7.3,-20.6 Q-0.3,-7.4 7.3,5.9" fill="none" stroke="#000" stroke-width="1.9"/><path transform="translate(63.41,0) scale(1.000,1.000)" d="M0.9,-20.6 Q10.4,-7.4 0.9,5.9" fill="none" stroke="#000" stroke-width="1.9"/></g>
<line x1="772.00" x2="812.00" y1="51.8" y2="51.8" stroke="#E69F00" stroke-width="4"/>
<g transform="translate(821.80,62.00)"><text transform="scale(1.0,1.04)" x="23.16" font-size="28">D</text><path transform="translate(0.40,0) scale(1.000,1.000)" d="M1.50,-19.40 C2.21,-19.50 4.50,-20.15 5.75,-20.00 C7.00,-19.85 8.08,-19.50 9.00,-18.50 C9.92,-17.50 10.78,-15.75 11.25,-14.00 C11.72,-12.25 11.81,-9.58 11.85,-8.00 C11.89,-6.42 11.97,-5.58 11.50,-4.50 C11.03,-3.42 9.96,-2.12 9.00,-1.50 C8.04,-0.88 6.79,-0.67 5.75,-0.75 C4.71,-0.83 3.52,-1.21 2.75,-2.00 C1.98,-2.79 1.27,-4.42 1.15,-5.50 C1.02,-6.58 1.44,-7.67 2.00,-8.50 C2.56,-9.33 3.67,-10.14 4.50,-10.50 C5.33,-10.86 6.08,-10.82 7.00,-10.65 C7.92,-10.48 9.23,-9.94 10.00,-9.50 C10.77,-9.06 11.33,-8.25 11.60,-8.00" fill="none" stroke="#000" stroke-width="2.1" stroke-linejoin="round"/><path transform="translate(13.84,0) scale(1.000,1.000)" d="M7.3,-20.6 Q-0.3,-7.4 7.3,5.9" fill="none" stroke="#000" stroke-width="1.9"/></g><rect x="866.95" y="50.1" width="1.55" height="11.7" fill="#000"/><g transform="translate(870.20,62.00)"><text transform="scale(1.0,1.04)" x="9.32 40.26 55.84 63.62" font-size="28">/b.Ω</text><path transform="translate(0.00,0) scale(1.000,1.000)" d="M0.9,-20.6 Q10.4,-7.4 0.9,5.9" fill="none" stroke="#000" stroke-width="1.9"/><path transform="translate(17.50,0) scale(1.000,1.000)" d="M1.50,-19.40 C2.21,-19.50 4.50,-20.15 5.75,-20.00 C7.00,-19.85 8.08,-19.50 9.00,-18.50 C9.92,-17.50 10.78,-15.75 11.25,-14.00 C11.72,-12.25 11.81,-9.58 11.85,-8.00 C11.89,-6.42 11.97,-5.58 11.50,-4.50 C11.03,-3.42 9.96,-2.12 9.00,-1.50 C8.04,-0.88 6.79,-0.67 5.75,-0.75 C4.71,-0.83 3.52,-1.21 2.75,-2.00 C1.98,-2.79 1.27,-4.42 1.15,-5.50 C1.02,-6.58 1.44,-7.67 2.00,-8.50 C2.56,-9.33 3.67,-10.14 4.50,-10.50 C5.33,-10.86 6.08,-10.82 7.00,-10.65 C7.92,-10.48 9.23,-9.94 10.00,-9.50 C10.77,-9.06 11.33,-8.25 11.60,-8.00" fill="none" stroke="#000" stroke-width="2.1" stroke-linejoin="round"/><path transform="translate(30.94,0) scale(1.000,1.000)" d="M7.3,-20.6 Q-0.3,-7.4 7.3,5.9" fill="none" stroke="#000" stroke-width="1.9"/></g><g transform="translate(955.05,61.85)"><text transform="scale(1.173,1.027)" x="0.00" font-size="16.5">0</text></g><g transform="translate(966.35,62.00)"><text transform="scale(1.0,1.04)" x="26.43 44.73" font-size="28">TE</text><path transform="translate(0.00,0) scale(1.000,1.000)" d="M0.9,-20.6 Q10.4,-7.4 0.9,5.9" fill="none" stroke="#000" stroke-width="1.9"/><path transform="translate(17.10,0) scale(1.000,1.000)" d="M7.3,-20.6 Q-0.3,-7.4 7.3,5.9" fill="none" stroke="#000" stroke-width="1.9"/><path transform="translate(63.41,0) scale(1.000,1.000)" d="M0.9,-20.6 Q10.4,-7.4 0.9,5.9" fill="none" stroke="#000" stroke-width="1.9"/></g>
<line x1="1069.20" x2="1109.20" y1="51.8" y2="51.8" stroke="#009E73" stroke-width="4"/>
<g transform="translate(1119.00,62.00)"><text transform="scale(1.0,1.04)" x="23.16" font-size="28">D</text><path transform="translate(0.40,0) scale(1.000,1.000)" d="M1.50,-19.40 C2.21,-19.50 4.50,-20.15 5.75,-20.00 C7.00,-19.85 8.08,-19.50 9.00,-18.50 C9.92,-17.50 10.78,-15.75 11.25,-14.00 C11.72,-12.25 11.81,-9.58 11.85,-8.00 C11.89,-6.42 11.97,-5.58 11.50,-4.50 C11.03,-3.42 9.96,-2.12 9.00,-1.50 C8.04,-0.88 6.79,-0.67 5.75,-0.75 C4.71,-0.83 3.52,-1.21 2.75,-2.00 C1.98,-2.79 1.27,-4.42 1.15,-5.50 C1.02,-6.58 1.44,-7.67 2.00,-8.50 C2.56,-9.33 3.67,-10.14 4.50,-10.50 C5.33,-10.86 6.08,-10.82 7.00,-10.65 C7.92,-10.48 9.23,-9.94 10.00,-9.50 C10.77,-9.06 11.33,-8.25 11.60,-8.00" fill="none" stroke="#000" stroke-width="2.1" stroke-linejoin="round"/><path transform="translate(13.84,0) scale(1.000,1.000)" d="M7.3,-20.6 Q-0.3,-7.4 7.3,5.9" fill="none" stroke="#000" stroke-width="1.9"/></g><rect x="1164.15" y="50.1" width="1.55" height="11.7" fill="#000"/><g transform="translate(1167.40,62.00)"><text transform="scale(1.0,1.04)" x="9.32 40.26 55.84 63.62" font-size="28">/h.Ω</text><path transform="translate(0.00,0) scale(1.000,1.000)" d="M0.9,-20.6 Q10.4,-7.4 0.9,5.9" fill="none" stroke="#000" stroke-width="1.9"/><path transform="translate(17.50,0) scale(1.000,1.000)" d="M1.50,-19.40 C2.21,-19.50 4.50,-20.15 5.75,-20.00 C7.00,-19.85 8.08,-19.50 9.00,-18.50 C9.92,-17.50 10.78,-15.75 11.25,-14.00 C11.72,-12.25 11.81,-9.58 11.85,-8.00 C11.89,-6.42 11.97,-5.58 11.50,-4.50 C11.03,-3.42 9.96,-2.12 9.00,-1.50 C8.04,-0.88 6.79,-0.67 5.75,-0.75 C4.71,-0.83 3.52,-1.21 2.75,-2.00 C1.98,-2.79 1.27,-4.42 1.15,-5.50 C1.02,-6.58 1.44,-7.67 2.00,-8.50 C2.56,-9.33 3.67,-10.14 4.50,-10.50 C5.33,-10.86 6.08,-10.82 7.00,-10.65 C7.92,-10.48 9.23,-9.94 10.00,-9.50 C10.77,-9.06 11.33,-8.25 11.60,-8.00" fill="none" stroke="#000" stroke-width="2.1" stroke-linejoin="round"/><path transform="translate(30.94,0) scale(1.000,1.000)" d="M7.3,-20.6 Q-0.3,-7.4 7.3,5.9" fill="none" stroke="#000" stroke-width="1.9"/></g><g transform="translate(1252.25,61.85)"><text transform="scale(1.173,1.027)" x="0.00" font-size="16.5">0</text></g><g transform="translate(1263.55,62.00)"><text transform="scale(1.0,1.04)" x="26.43 44.73" font-size="28">TE</text><path transform="translate(0.00,0) scale(1.000,1.000)" d="M0.9,-20.6 Q10.4,-7.4 0.9,5.9" fill="none" stroke="#000" stroke-width="1.9"/><path transform="translate(17.10,0) scale(1.000,1.000)" d="M7.3,-20.6 Q-0.3,-7.4 7.3,5.9" fill="none" stroke="#000" stroke-width="1.9"/><path transform="translate(63.41,0) scale(1.000,1.000)" d="M0.9,-20.6 Q10.4,-7.4 0.9,5.9" fill="none" stroke="#000" stroke-width="1.9"/></g>
</g>
</svg></body></html>
